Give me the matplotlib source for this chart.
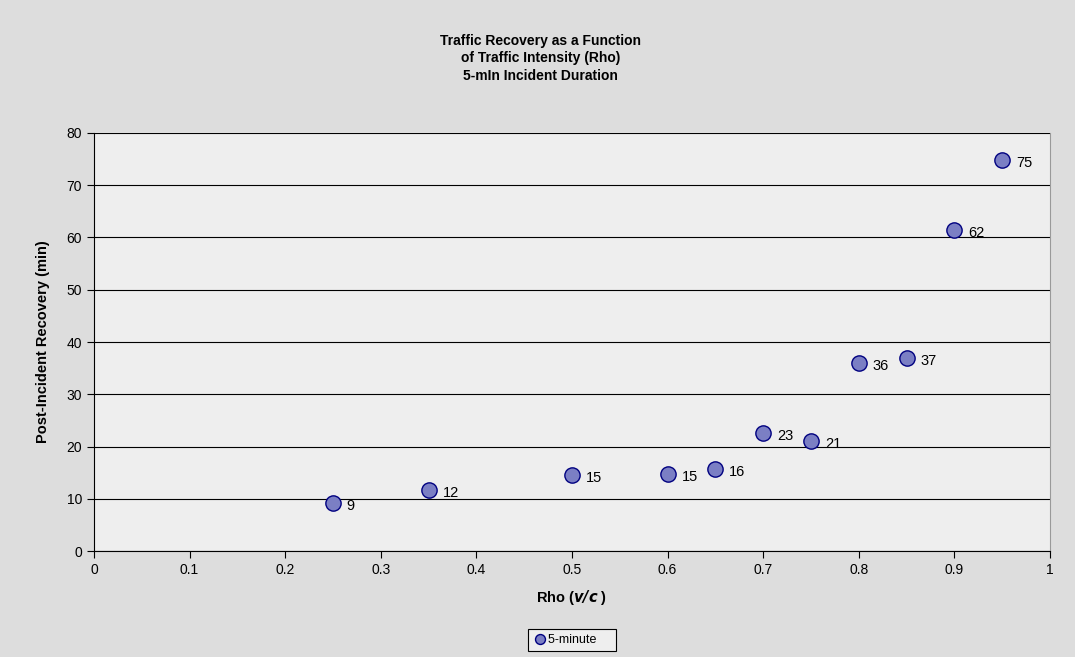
import matplotlib
matplotlib.use('Agg')
import matplotlib.pyplot as plt

plt.rcParams['font.family'] = ['Liberation Sans', 'DejaVu Sans']

# Data
rho = [0.25, 0.35, 0.5, 0.6, 0.65, 0.7, 0.75, 0.8, 0.85, 0.9, 0.95]
recovery = [9.2, 11.7, 14.5, 14.7, 15.7, 22.6, 21.1, 36.0, 36.9, 61.4, 74.8]
labels = ['9', '12', '15', '15', '16', '23', '21', '36', '37', '62', '75']

fig = plt.figure(figsize=(10.75, 6.57), dpi=100)
fig.patch.set_facecolor('#DDDDDD')
ax = fig.add_axes([0.0874, 0.1613, 0.8893, 0.6363])
ax.set_facecolor('#EEEEEE')

ax.plot(rho, recovery, linestyle='none', marker='o', markersize=11,
        markerfacecolor='#7B7FC4', markeredgecolor='#000080', markeredgewidth=1,
        label='5-minute', zorder=3)

for x, y, t in zip(rho, recovery, labels):
    ax.annotate(t, (x, y), xytext=(10, -2), textcoords='offset points',
                va='center', ha='left', fontsize=10.5)

ax.set_xlim(0, 1)
ax.set_ylim(0, 80)
ax.set_xticks([i / 10 for i in range(11)])
ax.set_xticklabels(['0', '0.1', '0.2', '0.3', '0.4', '0.5', '0.6', '0.7', '0.8', '0.9', '1'])
ax.set_yticks(range(0, 81, 10))
ax.tick_params(direction='out', length=5, labelsize=10, width=0.8)
ax.yaxis.grid(True, color='black', linewidth=0.8)
ax.set_axisbelow(True)

ax.spines['top'].set_visible(False)
ax.spines['right'].set_color('#999999')
ax.spines['left'].set_color('black')
ax.spines['bottom'].set_color('black')

ax.set_xlabel('Rho ($\\mathbfit{v/c}$ )', fontsize=10.5, fontweight='bold', labelpad=8)
ax.set_ylabel('Post-Incident Recovery (min)', fontsize=10.5, fontweight='bold', labelpad=12)

fig.text(0.503, 0.911, 'Traffic Recovery as a Function\nof Traffic Intensity (Rho)\n5-mIn Incident Duration',
         ha='center', va='center', fontsize=10, fontweight='bold', linespacing=1.3)

leg = ax.legend(loc='center', bbox_to_anchor=(0.5, -0.213), fontsize=9, frameon=True,
                fancybox=False, edgecolor='black', facecolor='#EEEEEE', framealpha=1,
                handletextpad=0.2, borderpad=0.4, borderaxespad=0, markerscale=0.65,
                handlelength=1.0)
leg.get_frame().set_linewidth(0.8)
for t in leg.get_texts():
    t.set_text(t.get_text() + '    ')

fig.savefig('out.png', dpi=100, facecolor=fig.get_facecolor())
